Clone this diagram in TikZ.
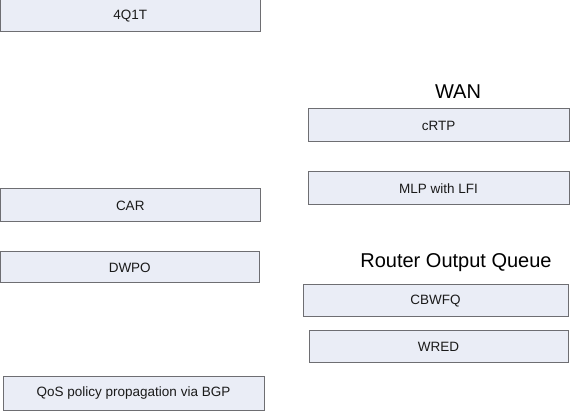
\documentclass[tikz,border=0pt]{standalone}
\usepackage{fontspec}
\setmainfont{Liberation Sans}
\definecolor{boxfill}{HTML}{EAEDF6}
\definecolor{boxborder}{HTML}{6E6E72}
\definecolor{txt}{HTML}{1A1A1A}
\tikzset{
  qbox/.style={draw=boxborder, fill=boxfill, line width=1pt, inner sep=0pt,
    text=txt, font=\fontsize{13.5}{16}\selectfont},
  heading/.style={inner sep=0pt, text=black, font=\fontsize{20}{24}\selectfont}
}
\newcommand{\qb}[6]{% name, x1, y1, x2, y2, text
  \node[qbox, minimum width={(#4-#2)*1pt}, minimum height={(#5-#3)*1pt}]
    (#1) at ({(#2+#4)/2*1pt}, {-(#3+#5)/2*1pt}) {#6};}
\begin{document}
\begin{tikzpicture}[x=1pt,y=1pt]
\useasboundingbox (0,0) rectangle (570,-411);
\fill[white] (0,0) rectangle (570,-411);
\qb{q41t}{0.5}{0}{260}{32}{4Q1T}
\qb{crtp}{308}{109}{569}{142}{cRTP}
\qb{mlp}{308}{172}{569}{205}{MLP with LFI}
\qb{car}{0.5}{189}{260}{222}{CAR}
\qb{dwpo}{0.5}{252}{259}{283}{DWPO}
\qb{cbwfq}{303}{285}{568}{317}{CBWFQ}
\qb{wred}{309}{331}{568}{363}{WRED}
\qb{qos}{3}{376}{264}{410}{QoS policy propagation via BGP}
\node[heading] (wan) at (458,-92) {WAN};
\node[heading] (roq) at (456,-263) {Router Output Queue};
\end{tikzpicture}
\end{document}
